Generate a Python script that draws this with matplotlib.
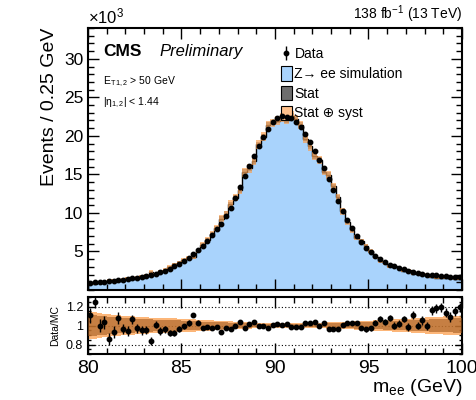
import numpy as np
import matplotlib
matplotlib.use("Agg")
import matplotlib.pyplot as plt
from matplotlib.patches import Patch
from matplotlib.ticker import MultipleLocator, FixedLocator

plt.rcParams["font.family"] = ["Liberation Sans", "DejaVu Sans"]
plt.rcParams["mathtext.fontset"] = "custom"
plt.rcParams["mathtext.rm"] = "Liberation Sans"
plt.rcParams["mathtext.it"] = "Liberation Sans:italic"

# bin edges: 80-100 GeV in 0.25 GeV bins
edges = np.arange(80, 100.001, 0.25)

# data yields (x10^3 events per bin)
data_k = [0.95, 0.98, 1.02, 1.07, 1.12, 1.20, 1.28, 1.35, 1.43, 1.50,
          1.60, 1.70, 1.82, 1.97, 2.12, 2.30, 2.50, 2.75, 3.05, 3.40,
          3.80, 4.20, 4.70, 5.20, 5.70, 6.40, 7.10, 7.90, 8.60, 9.60,
          10.7, 12.0, 13.4, 14.8, 16.1, 17.4, 18.7, 19.9, 20.9, 21.8,
          22.3, 22.6, 22.5, 22.3, 21.8, 21.1, 20.2, 19.2, 18.0, 16.9,
          15.8, 14.4, 13.0, 11.6, 10.3, 9.10, 8.00, 7.00, 6.20, 5.50,
          4.90, 4.40, 4.00, 3.60, 3.30, 3.10, 2.90, 2.70, 2.50, 2.35,
          2.20, 2.10, 2.00, 1.95, 1.90, 1.85, 1.80, 1.75, 1.70, 1.70]

# data / MC ratio per bin
ratio = [1.106, 1.25, 1.00, 1.035, 0.86, 0.93, 1.08, 0.965, 0.94, 1.065,
         0.97, 0.95, 0.95, 0.84, 1.01, 0.94, 0.96, 0.92, 0.92, 0.965,
         0.99, 1.025, 1.11, 1.03, 0.97, 0.985, 0.975, 0.98, 0.93, 0.975,
         0.96, 1.00, 1.035, 0.97, 1.02, 1.04, 0.99, 1.00, 0.975, 1.005,
         1.015, 1.01, 1.02, 0.985, 0.985, 0.985, 1.03, 1.03, 1.035, 1.00,
         1.03, 0.965, 0.965, 0.965, 1.01, 1.03, 1.03, 1.03, 0.97, 0.96,
         0.97, 1.03, 1.065, 1.035, 1.08, 1.00, 1.02, 1.07, 0.985, 1.11,
         1.00, 1.055, 0.995, 1.16, 1.18, 1.19, 1.135, 1.09, 1.15, 1.19]

# statistical uncertainty on the ratio points
ratio_err = [0.08, 0.07, 0.07, 0.07, 0.06, 0.06, 0.06, 0.05, 0.05, 0.05,
             0.05, 0.05, 0.04, 0.04, 0.04, 0.04, 0.035, 0.035, 0.03, 0.03,
             0.03, 0.03, 0.025, 0.025, 0.02, 0.02, 0.02, 0.02, 0.02, 0.015,
             0.015, 0.015, 0.012, 0.012, 0.012, 0.01, 0.01, 0.01, 0.01, 0.01,
             0.01, 0.01, 0.01, 0.01, 0.01, 0.01, 0.01, 0.01, 0.01, 0.012,
             0.012, 0.012, 0.015, 0.015, 0.015, 0.02, 0.02, 0.02, 0.02, 0.025,
             0.025, 0.025, 0.03, 0.03, 0.03, 0.035, 0.035, 0.035, 0.04, 0.04,
             0.04, 0.045, 0.045, 0.05, 0.05, 0.05, 0.05, 0.05, 0.05, 0.05]

# relative MC uncertainties: stat only, and stat (+) syst
stat_rel = [0.11, 0.11, 0.10, 0.10, 0.09, 0.09, 0.08, 0.08, 0.08, 0.08,
            0.07, 0.07, 0.07, 0.07, 0.06, 0.06, 0.06, 0.06, 0.055, 0.055,
            0.05, 0.05, 0.05, 0.045, 0.04, 0.04, 0.04, 0.035, 0.035, 0.035,
            0.03, 0.03, 0.03, 0.025, 0.025, 0.02, 0.02, 0.02, 0.015, 0.015,
            0.015, 0.015, 0.015, 0.015, 0.015, 0.015, 0.015, 0.02, 0.02, 0.02,
            0.02, 0.025, 0.025, 0.025, 0.03, 0.03, 0.03, 0.035, 0.035, 0.035,
            0.04, 0.04, 0.04, 0.045, 0.045, 0.05, 0.05, 0.05, 0.055, 0.055,
            0.06, 0.06, 0.06, 0.065, 0.065, 0.07, 0.07, 0.07, 0.075, 0.075]
tot_rel = [0.14, 0.14, 0.13, 0.12, 0.12, 0.11, 0.11, 0.10, 0.10, 0.10,
           0.09, 0.09, 0.09, 0.08, 0.08, 0.08, 0.08, 0.075, 0.075, 0.07,
           0.07, 0.065, 0.065, 0.06, 0.06, 0.055, 0.055, 0.05, 0.05, 0.045,
           0.045, 0.04, 0.04, 0.035, 0.035, 0.03, 0.03, 0.03, 0.025, 0.025,
           0.025, 0.025, 0.025, 0.025, 0.025, 0.025, 0.025, 0.03, 0.03, 0.03,
           0.03, 0.035, 0.035, 0.035, 0.04, 0.04, 0.04, 0.045, 0.045, 0.05,
           0.05, 0.055, 0.055, 0.06, 0.06, 0.065, 0.065, 0.07, 0.07, 0.075,
           0.08, 0.08, 0.085, 0.085, 0.09, 0.09, 0.095, 0.095, 0.10, 0.10]

data_k = np.array(data_k)
ratio = np.array(ratio)
ratio_err = np.array(ratio_err)
stat_rel = np.array(stat_rel)
tot_rel = np.array(tot_rel)
mc_k = data_k / ratio
centers = 0.5 * (edges[1:] + edges[:-1])
bw = 0.25

blue = "#a9d3fc"
orange = "#fb9e4c"
grey = "#4a4a4a"

fig = plt.figure(figsize=(4.77, 4.0), dpi=100)
ax = fig.add_axes([0.1845, 0.275, 0.784, 0.655])
rax = fig.add_axes([0.1845, 0.115, 0.784, 0.1425])

# main panel
ax.stairs(mc_k, edges, fill=True, color=blue, zorder=1)
ax.stairs(mc_k, edges, color="black", lw=1.0, zorder=2)
ax.bar(centers, 2 * stat_rel * mc_k, bottom=mc_k * (1 - stat_rel), width=bw,
       color=grey, alpha=0.55, lw=0, zorder=3)
ax.bar(centers, 2 * tot_rel * mc_k, bottom=mc_k * (1 - tot_rel), width=bw,
       color=orange, alpha=0.65, lw=0, zorder=4)
eb = ax.errorbar(centers, data_k, yerr=data_k * ratio_err, fmt="o", color="black",
                 markersize=3.2, elinewidth=1.0, capsize=0, zorder=5, label="Data")

ax.set_xlim(80, 100)
ax.set_ylim(0, 34)
ax.set_xticklabels([])
ax.xaxis.set_major_locator(MultipleLocator(5))
ax.xaxis.set_minor_locator(MultipleLocator(1))
ax.yaxis.set_major_locator(FixedLocator([5, 10, 15, 20, 25, 30]))
ax.yaxis.set_minor_locator(MultipleLocator(1))
ax.set_ylabel("Events / 0.25 GeV", fontsize=14, loc="top")

ax.text(0.0, 1.005, r"$\times$10$^{3}$", transform=ax.transAxes, fontsize=12,
        ha="left", va="bottom")
ax.text(1.0, 1.01, r"138 fb$^{-1}$ (13 TeV)", transform=ax.transAxes, fontsize=10,
        ha="right", va="bottom")
ax.text(0.04, 0.91, "CMS", transform=ax.transAxes, fontsize=12.5,
        fontweight="bold", ha="left", va="center")
ax.text(0.19, 0.91, "Preliminary", transform=ax.transAxes, fontsize=12,
        style="italic", ha="left", va="center")
ax.text(0.04, 0.795, r"E$_{\mathrm{T\,1,2}}$ > 50 GeV", transform=ax.transAxes,
        fontsize=7.5, ha="left", va="center")
ax.text(0.04, 0.715, r"|$\mathrm{\eta}_{1,2}$| < 1.44", transform=ax.transAxes,
        fontsize=7.5, ha="left", va="center")

handles = [eb,
           Patch(facecolor=blue, edgecolor="black", lw=0.8),
           Patch(facecolor="#6e6e6e", edgecolor="black", lw=0.8),
           Patch(facecolor="#ffc08a", edgecolor="black", lw=0.8)]
labels = ["Data", "Z\u2192 ee simulation", "Stat", "Stat \u2295 syst"]
ax.legend(handles, labels, loc="upper left", bbox_to_anchor=(0.5, 0.95),
          frameon=False, fontsize=10, handlelength=0.8, handleheight=1.2,
          handletextpad=0.2, labelspacing=0.35, borderaxespad=0)

# ratio panel
rax.bar(centers, 2 * tot_rel, bottom=1 - tot_rel, width=bw, color=orange,
        alpha=0.75, lw=0, zorder=2)
rax.bar(centers, 2 * stat_rel, bottom=1 - stat_rel, width=bw, color="#9a5318",
        alpha=0.55, lw=0, zorder=3)
rax.errorbar(centers, ratio, yerr=ratio_err, fmt="o", color="black",
             markersize=3.2, elinewidth=1.0, capsize=0, zorder=5)
for yl in (0.8, 1.0, 1.2):
    rax.axhline(yl, color="black", ls=(0, (1, 2)), lw=0.8, zorder=1)
rax.set_xlim(80, 100)
rax.set_ylim(0.7, 1.3)
rax.xaxis.set_major_locator(MultipleLocator(5))
rax.xaxis.set_minor_locator(MultipleLocator(1))
rax.yaxis.set_major_locator(FixedLocator([0.8, 1.0, 1.2]))
rax.yaxis.set_minor_locator(MultipleLocator(0.05))
rax.set_yticklabels(["0.8", "1", "1.2"], fontsize=9)
rax.tick_params(axis="x", labelsize=14, pad=4)
rax.set_ylabel("Data/MC", fontsize=7.5, labelpad=4)
rax.set_xlabel(r"m$_{\mathrm{ee}}$ (GeV)", fontsize=14, loc="right", labelpad=0)

for a in (ax, rax):
    for s in a.spines.values():
        s.set_linewidth(1.5)
    a.tick_params(which="both", direction="in", top=True, right=True, width=1.0)
    a.tick_params(which="major", length=8)
    a.tick_params(which="minor", length=4)
ax.tick_params(axis="y", labelsize=12.5)
rax.tick_params(axis="y", which="major", length=5)
rax.tick_params(axis="y", which="minor", length=2.5)

fig.savefig("out.png", dpi=100)
